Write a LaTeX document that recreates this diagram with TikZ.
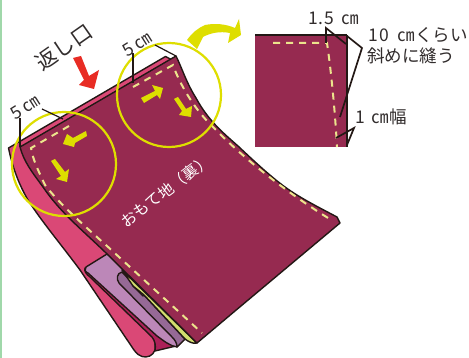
\documentclass[tikz,border=0pt]{standalone}
\usepackage{fontspec}
\setmainfont{Noto Sans CJK JP}
\definecolor{wine}{RGB}{150,42,80}
\definecolor{pinkc}{RGB}{218,72,118}
\definecolor{darkm}{RGB}{172,32,88}
\definecolor{lilac}{RGB}{188,135,184}
\definecolor{dlilac}{RGB}{150,105,150}
\definecolor{ygreen}{RGB}{210,222,110}
\definecolor{ycirc}{RGB}{222,222,0}
\definecolor{stitch}{RGB}{236,228,140}
\definecolor{ink}{RGB}{35,24,21}
\definecolor{redc}{RGB}{232,44,36}
\definecolor{leftbar}{RGB}{160,216,170}
\definecolor{txt}{RGB}{50,45,45}
\tikzset{
 edge/.style={draw=ink,line width=1.4pt,line join=round},
 leader/.style={draw=ink,line width=1.2pt,line join=miter},
 dleader/.style={draw=ink,line width=1.7pt,line join=miter},
 stitchline/.style={draw=stitch,line width=2pt,dash pattern=on 7pt off 6pt},
 ring/.style={draw=ycirc,line width=2.2pt},
 yarrow/.style={fill=ycirc},
 lbl/.style={text=txt,inner sep=0pt,font=\fontsize{17.5}{18}\selectfont},
 lblw/.style={text=white,inner sep=0pt,font=\fontsize{15.5}{16}\selectfont}
}
\begin{document}
\begin{tikzpicture}[x=1pt,y=-1pt]
\useasboundingbox (0,0) rectangle (469,358);
\fill[white] (0,0) rectangle (469,358);
\fill[leftbar] (0,0) rectangle (1.5,358);
% back sheet
\path[edge,fill=pinkc] (8.5,148) -- (165.5,56.5) -- (176,62) -- (150,300) -- (155,340) -- (155,350) .. controls (153,356) and (147,358) .. (142,356.5) .. controls (139,355.5) and (137,354) .. (134,350) -- (80,270) .. controls (60,243) and (42,222) .. (28,200) .. controls (18,183) and (12,165) .. (8.5,148) -- cycle;
% dark inner
\path[edge,fill=darkm] (85,268) -- (160,333) -- (176,346) -- (155,351) .. controls (156,345) and (155,341) .. (152,337) -- (90,277) .. controls (86,274) and (84,271) .. (85,268) -- cycle;
% lilac
\path[edge,fill=lilac] (107,254) -- (86,267) .. controls (84,269) and (85,272) .. (88,273) -- (157,336) .. controls (164,341) and (170,346) .. (177,347) -- (185,339) -- (130,270) -- cycle;
\path[edge,fill=dlilac] (122,272) .. controls (117,273) and (116,279) .. (119,283) -- (172,337) .. controls (175,340) and (177,343) .. (177,347) -- (185,339) -- (144,295) -- cycle;
\path[edge,fill=pinkc] (134,283) -- (145,293) -- (143,296) -- (133,286) -- cycle;
\path[edge,fill=ygreen] (122,270) -- (197,343) .. controls (193,344) and (189,342) .. (185,339) -- (144,295) -- (133,286) -- cycle;
% main sheet
\path[edge,fill=wine] (20,147) -- (176,56) .. controls (182,68) and (186,82) .. (196,98) .. controls (208,120) and (222,132) .. (238,146) .. controls (255,162) and (270,176) .. (285,187) .. controls (300,198) and (320,208) .. (337,217) -- (340,223) -- (235,311) -- (197,343) -- (105,252) .. controls (80,228) and (60,212) .. (43,187) .. controls (32,172) and (24,162) .. (20,147) -- cycle;
% stitches
\path[stitchline] (69,126) -- (31,148) .. controls (33,160) and (38,170) .. (45,185) .. controls (58,202) and (80,222) .. (107,246) -- (202,333);
\path[stitchline] (133,87) -- (173,65) .. controls (180,85) and (195,110) .. (213,127) .. controls (245,160) and (290,195) .. (333,221);
% red arrow
\path[fill=redc] (73,58) -- (81,56) -- (89,76) -- (99,70) -- (94,89) -- (79,85) -- (84,80) -- cycle;
% yellow small arrows
\path[yarrow] (141,98) -- (155,91) -- (152,85) -- (163,88) -- (160,99) -- (157,95) -- (144,103) -- cycle;
\path[yarrow] (174,99) -- (178,97) -- (186,109) -- (192,106) -- (191,117) -- (179,115) -- (182,111) -- cycle;
\path[yarrow] (86,131) -- (87,136) -- (75,143) -- (74,147) -- (63,144) -- (67,134) -- (73,138) -- cycle;
\path[yarrow] (51,161) -- (55,159) -- (65,172) -- (69,169) -- (67,182) -- (56,179) -- (61,176) -- cycle;
% rings
\draw[ring] (64,164) circle (52);
\draw[ring] (169,95) circle (52);
% big yellow arrow
\path[fill=ycirc] (187,40) .. controls (192,33) and (198,28) .. (205,25) .. controls (215,23) and (226,24) .. (235,28) -- (239,19) -- (241,35) -- (228,43) -- (230,33) .. controls (220,31) and (210,33) .. (203,37) -- (197,49) -- cycle;
% leaders left
\draw[leader] (20,147) -- (20,118);
\draw[leader] (42,109) -- (63,119);
\draw[leader] (133,83) -- (133,53);
\draw[leader] (155,45) -- (176,56);
% texts
\node[lbl,rotate=35,font=\fontsize{21}{21}\selectfont] (a) at (64,47) {返し口};
\node[lbl,rotate=32] (b) at (137,44) {5 ㎝};
\node[lbl,rotate=32] (c) at (25,107) {5 ㎝};
\node[lblw,rotate=37] (d) at (166,191) {おもて地（裏）};
% detail
\path[fill=wine] (255,35) rectangle (347,147);
\draw[ink,line width=2pt] (255,35) -- (347,35);
\draw[ink,line width=1.5pt] (347,35) -- (347,147);
\path[stitchline] (273,43) -- (327,43) .. controls (331,70) and (335,110) .. (337,147);
\draw[dleader] (326,43) -- (326,28) -- (346,44);
\draw[dleader] (347,36) -- (362,48) -- (340,117);
\draw[dleader] (336,138) -- (354,128) -- (347,145);
\node[lbl,anchor=west] (e) at (308,18) {1\hspace{1pt}.\hspace{1pt}5\hspace{3pt} ㎝};
\node[lbl,anchor=west] (f) at (368,35) {1\hspace{2pt}0\hspace{4pt} ㎝くらい};
\node[lbl,anchor=west] (g) at (367,56) {斜めに縫う};
\node[lbl,anchor=west] (h) at (355,117) {1\hspace{3pt} ㎝幅};
\end{tikzpicture}
\end{document}
